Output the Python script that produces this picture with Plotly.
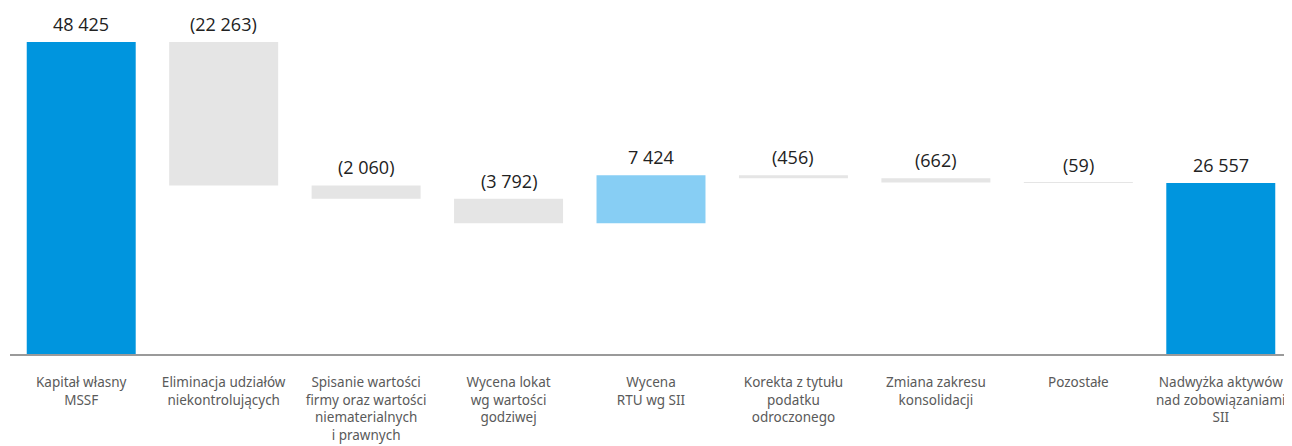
import plotly.graph_objects as go

categories = [
    "Kapitał własny<br>MSSF",
    "Eliminacja udziałów<br>niekontrolujących",
    "Spisanie wartości<br>firmy oraz wartości<br>niematerialnych<br>i prawnych",
    "Wycena lokat<br>wg wartości<br>godziwej",
    "Wycena<br>RTU wg SII",
    "Korekta z tytułu<br>podatku<br>odroczonego",
    "Zmiana zakresu<br>konsolidacji",
    "Pozostałe",
    "Nadwyżka aktywów<br>nad zobowiązaniami<br>SII",
]
values = [48425, -22263, -2060, -3792, 7424, -456, -662, -59, 26557]
measures = ["absolute"] + ["relative"] * 7 + ["total"]


def fmt(v):
    s = f"{abs(v):,}".replace(",", " ")
    return f"({s})" if v < 0 else s


labels = [fmt(v) for v in values]

# label y positions = top of each waterfall bar
tops = []
cum = 0
for m, v in zip(measures, values):
    if m == "absolute":
        cum = v
        tops.append(v)
    elif m == "total":
        tops.append(cum)
    else:
        prev = cum
        cum += v
        tops.append(max(prev, cum))

fig = go.Figure()
fig.add_trace(go.Waterfall(
    x=categories,
    y=values,
    measure=measures,
    width=0.765,
    connector=dict(visible=False),
    increasing=dict(marker=dict(color="#87CEF4")),
    decreasing=dict(marker=dict(color="#E5E5E5")),
    totals=dict(marker=dict(color="#0095DE")),
    textposition="none",
    hoverinfo="skip",
))

for c, t, lab in zip(categories, tops, labels):
    fig.add_annotation(
        x=c, y=t, text=lab, showarrow=False,
        xref="x", yref="y", yanchor="bottom", yshift=4,
        font=dict(family="Open Sans", size=18, color="#222222"),
    )

fig.update_layout(
    width=1292,
    height=446,
    margin=dict(l=2, r=8, t=0, b=100),
    paper_bgcolor="white",
    plot_bgcolor="white",
    showlegend=False,
    xaxis=dict(
        showline=True,
        linecolor="#9a9a9a",
        linewidth=1.5,
        showgrid=False,
        ticks="outside",
        ticklen=15,
        tickcolor="rgba(0,0,0,0)",
        tickfont=dict(family="Noto Sans", size=13.5, color="#5a5a5a"),
        tickangle=0,
    ),
    yaxis=dict(
        range=[0, 53702],
        visible=False,
        showgrid=False,
        zeroline=False,
    ),
)

fig.write_html("out.html")
